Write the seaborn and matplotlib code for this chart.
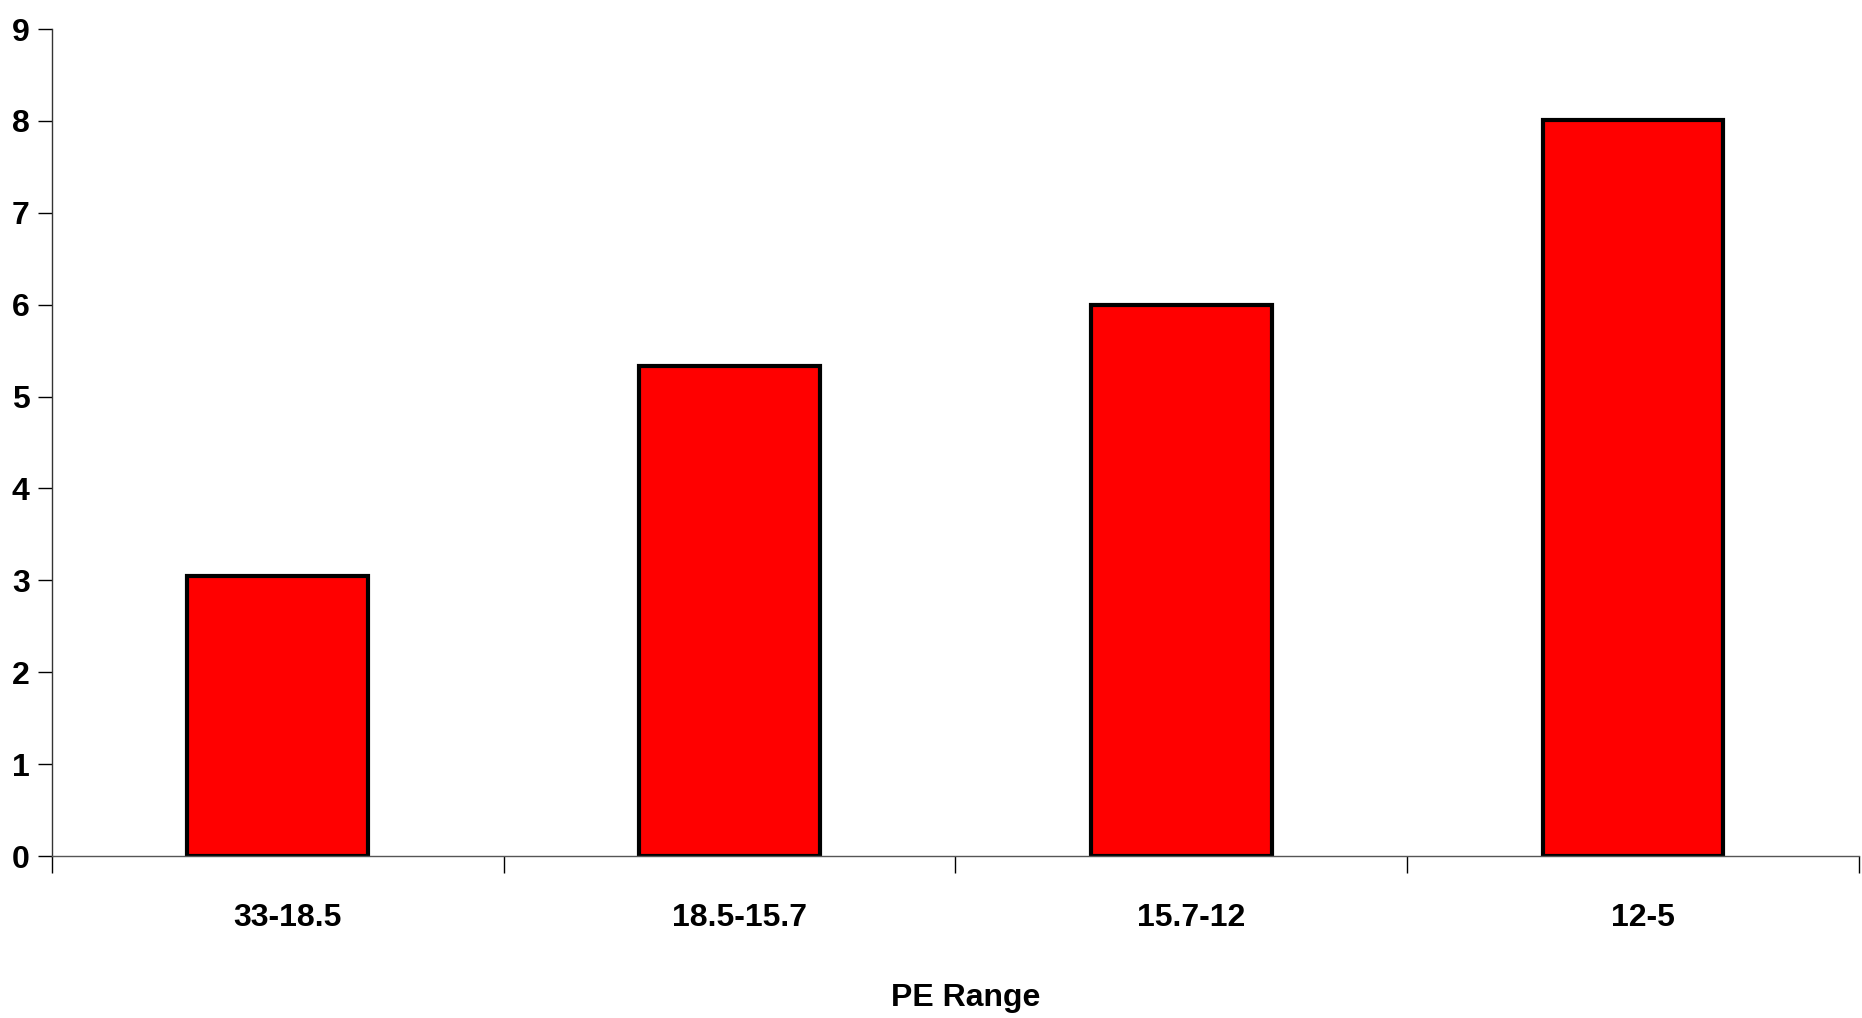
import pandas as pd
import numpy as np
import matplotlib
matplotlib.use("Agg")
import matplotlib.pyplot as plt
import matplotlib.transforms as mtransforms
import seaborn as sns

# values
ranges = ["33-18.5", "18.5-15.7", "15.7-12", "12-5"]
counts = [3.05, 5.33, 6.0, 8.01]

df = pd.DataFrame({"range": ranges, "count": counts})

sns.set_style("white")
plt.rcParams['font.family'] = ['Liberation Sans', 'DejaVu Sans']
plt.rcParams['text.color'] = "black"
plt.rcParams['xtick.color'] = "black"
plt.rcParams['ytick.color'] = "black"
plt.rcParams['axes.labelcolor'] = "black"

fig = plt.figure(figsize=(18.62, 10.18), dpi=100)
ax = fig.add_axes([0.0279, 0.1591, 0.9705, 0.8124])

sns.barplot(data=df, x="range", y="count", color="#ff0000", width=0.4,
            edgecolor="black", linewidth=3, saturation=1, ax=ax)

ax.set_xlim(-0.5, 3.5)
ax.set_ylim(0, 9)
ax.set_yticks(range(0, 10))
ax.set_xticks([-0.5, 0.5, 1.5, 2.5, 3.5], minor=True)
ax.tick_params(axis="x", which="major", length=0, pad=34, labelsize=23)
ax.tick_params(axis="x", which="minor", length=12, width=1, color="black", direction="out", bottom=True)
ax.tick_params(axis="y", length=10, width=1, color="black", direction="out", left=True, pad=6, labelsize=23)

# labels in the reference sit a little right of the bar centres
shift = mtransforms.ScaledTranslation(0.1, 0, fig.dpi_scale_trans)
for lab in ax.get_xticklabels():
    lab.set_fontweight("bold")
    lab.set_transform(lab.get_transform() + shift)
for lab in ax.get_yticklabels():
    lab.set_fontweight("bold")

sns.despine(ax=ax)
ax.spines["left"].set_color("#333333")
ax.spines["bottom"].set_color("#555555")
ax.spines["left"].set_linewidth(1)
ax.spines["bottom"].set_linewidth(1)

ax.set_ylabel("")
ax.set_xlabel("PE Range", fontsize=23, fontweight="bold", labelpad=36)
ax.xaxis.label.set_transform(ax.xaxis.label.get_transform() + shift)

fig.savefig("out.png", dpi=100)
